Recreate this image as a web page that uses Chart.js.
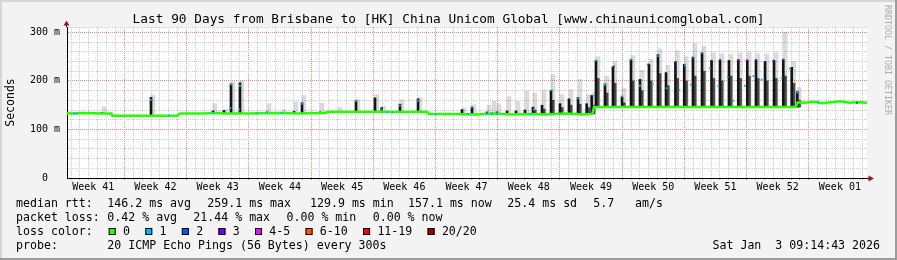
<!DOCTYPE html>
<html>
<head>
<meta charset="utf-8">
<script src="https://cdn.jsdelivr.net/npm/chart.js@4"></script>
<style>
  html, body { margin: 0; padding: 0; background: #f3f3f3; }
  canvas { display: block; }
</style>
</head>
<body>
<canvas id="myChart" width="897" height="260"></canvas>
<script>
// time axis in days since the start of the 90 day window
const totalDays = 90;
const firstWeekStart = 6.45;
const weekLabels = ['Week 41', 'Week 42', 'Week 43', 'Week 44', 'Week 45', 'Week 46', 'Week 47',
    'Week 48', 'Week 49', 'Week 50', 'Week 51', 'Week 52', 'Week 01'];
const yMax = 311;

// median rtt (ms)
const medianDay = [0, 2, 4, 5.0, 5.1, 8, 10, 12.4, 12.7, 15, 17.3, 17.6, 18, 20, 24, 26, 29.1, 29.3, 32, 35,
    38, 40.5, 40.7, 43, 46, 48, 50, 52, 54, 56, 58, 59.1, 59.3, 62, 65, 68, 71, 74, 77, 80,
    82.0, 82.2, 83, 84, 85, 86, 87, 88, 89, 90];
const medianMs = [133, 134, 133, 133, 128, 128, 128, 128, 133, 133, 134, 133, 133, 133, 134, 133, 134, 136.5, 136, 136.5,
    136, 136.5, 132, 132, 131, 133, 131, 132, 131, 133, 131, 132, 146, 146, 146, 146, 146, 146, 146, 146,
    146, 156, 155, 157, 154, 156, 158, 155, 156, 155];

// smoke spikes
const spikeDay = [3.94, 9.45, 16.42, 17.66, 18.45, 19.46, 22.50, 24.19, 25.54, 26.44, 28.46, 30.49, 32.51, 34.65,
    35.40, 37.46, 39.49, 44.44, 45.56, 47.25, 47.81, 48.37, 49.50, 50.51, 51.52, 52.42, 53.44, 54.45,
    55.46, 56.47, 57.49, 58.46, 59.03, 59.51, 60.52, 61.42, 62.44, 63.45, 64.46, 65.47, 66.48, 67.39,
    68.45, 69.44, 70.42, 71.44, 72.51, 73.46, 74.47, 75.52, 76.53, 77.51, 78.53, 79.54, 80.58, 81.53, 82.16];
const spikeBase = [133, 128, 133, 133, 133, 133, 134, 134, 134, 134, 134, 136.5, 136.5, 136.5,
    136.5, 136.5, 136.5, 132, 132, 132, 132, 132, 132, 132, 132, 132, 132, 132,
    132, 132, 132, 132, 132, 146, 146, 146, 146, 146, 146, 146, 146, 146,
    146, 146, 146, 146, 146, 146, 146, 146, 146, 146, 146, 146, 146, 146, 146];
const spikeTop = [135, 166, 138, 139, 194, 196, 136, 135, 137, 155, 136, 137, 159, 165,
    145, 152, 163, 141, 146, 136, 134, 136, 138, 138, 140, 146, 150, 180,
    153, 163, 166, 153, 170, 242, 194, 229, 167, 244, 203, 234, 254, 217,
    239, 234, 249, 258, 242, 242, 242, 243, 243, 243, 240, 242, 244, 228, 178];
const spikeTail = [null, null, null, null, null, null, null, null, null, null, null, null, null, null,
    null, null, null, null, null, null, null, null, null, null, null, 140, 142, 160,
    145, 150, 152, 145, 150, 205, 175, 195, 155, 200, 180, 200, 215, 190,
    205, 200, 210, 220, 205, 200, 210, 205, 210, 205, 200, 205, 210, 195, 160];
const smokeTop = [147, 170, 153, 141, 198, 200, 153, 141, 157, 170, 154, 145, 162, 172,
    148, 161, 166, 143, 151, 150, 158, 153, 168, 158, 179, 175, 180, 213,
    172, 182, 203, 172, 176, 250, 210, 240, 185, 252, 222, 245, 266, 232,
    262, 250, 277, 271, 258, 256, 255, 258, 260, 256, 255, 258, 300, 240, 186];

// points where the median had packet loss (bucket index into lossColors)
const lossDay = [0.79, 1.09, 9.42, 11.47, 16.39, 18.37, 18.45, 19.46, 19.38, 21.34, 22.47, 24.15, 26.47, 32.48,
    35.40, 35.97, 36.6, 37.46, 39.45, 41.48, 45.15, 45.53, 47.22, 47.78, 48.34, 52.09, 52.54,
    54.53, 57.52, 59.21, 59.48, 60.52, 61.54, 62.40, 63.41, 64.46, 65.40, 65.89, 66.45, 67.46,
    68.48, 68.88, 69.52, 70.20, 70.46, 71.47, 72.34, 73.27, 73.46, 74.33, 74.96, 75.52, 76.27,
    76.46, 77.21, 77.51, 78.15, 79.46, 80.40, 80.58, 81.34, 82.16, 84.49, 88.87];
const lossMs = [132, 132, 161, 129, 134, 144, 193, 190, 141, 133, 135, 134, 153, 158,
    141, 135, 135, 149, 159, 132, 132, 146, 132, 132, 132, 131, 141,
    181, 164, 169, 242, 192, 230, 168, 244, 190, 234, 193, 251, 185,
    239, 181, 232, 192, 247, 258, 226, 190, 243, 208, 159, 243, 190,
    243, 210, 243, 203, 242, 206, 244, 225, 176, 157, 155];
const lossBucket = [1, 1, 1, 1, 1, 1, 1, 1, 1, 1, 1, 1, 1, 1,
    1, 1, 1, 1, 1, 1, 1, 1, 1, 1, 1, 1, 1,
    1, 1, 1, 1, 1, 2, 1, 1, 1, 3, 1, 1, 1,
    3, 1, 1, 1, 2, 1, 1, 1, 3, 1, 1, 3, 1,
    4, 1, 3, 1, 2, 1, 2, 1, 1, 1, 2];

const lossLabels = ['0', '1', '2', '3', '4-5', '6-10', '11-19', '20/20'];
const lossColors = ['#26ff00', '#00b8ff', '#0059ff', '#6a00ff', '#ff00ff', '#ff5500', '#ff0000', '#a10000'];

const title = 'Last 90 Days from Brisbane to [HK] China Unicom Global [www.chinaunicomglobal.com]';
const medianStats = ['146.2 ms avg', '259.1 ms max', '129.9 ms min', '157.1 ms now', '25.4 ms sd', '5.7', 'am/s'];
const lossStats = ['0.42 % avg', '21.44 % max', '0.00 % min', '0.00 % now'];
const probeText = '20 ICMP Echo Pings (56 Bytes) every 300s';
const stamp = 'Sat Jan  3 09:14:43 2026';

const MONO = '"DejaVu Sans Mono", monospace';
const RED_GRID = '#ee8888';
const GREY_GRID = '#cdcdcd';

const smokeData = spikeDay.map((d, i) => ({ x: d + 0.22, y: [spikeBase[i], smokeTop[i]] }));
const spikeData = spikeDay.map((d, i) => ({ x: d, y: [spikeBase[i], spikeTop[i]] }));
const tailData = spikeDay.map((d, i) => spikeTail[i] === null ? null : ({ x: d + 0.25, y: [spikeBase[i], spikeTail[i]] }))
    .filter(p => p !== null);
const medianData = medianDay.map((d, i) => ({ x: d, y: medianMs[i] }));
const lossData = lossDay.map((d, i) => ({ x: d, y: lossMs[i] }));

function isWeekLine(v) {
    const k = (v - firstWeekStart) / 7;
    return Math.abs(k - Math.round(k)) < 0.01;
}

const decor = {
    id: 'decor',
    beforeDraw(chart) {
        const { ctx, chartArea: a } = chart;
        ctx.save();
        ctx.fillStyle = '#f3f3f3';
        ctx.fillRect(0, 0, chart.width, chart.height);
        ctx.fillStyle = '#ffffff';
        ctx.fillRect(a.left, a.top, a.right - a.left, a.bottom - a.top);
        ctx.restore();
    },
    afterDraw(chart) {
        const { ctx, chartArea: a } = chart;
        ctx.save();
        // frame
        ctx.fillStyle = '#d6d6d6';
        ctx.fillRect(0, 0, chart.width, 2);
        ctx.fillRect(0, 0, 2, chart.height);
        ctx.fillStyle = '#9c9c9c';
        ctx.fillRect(0, chart.height - 2, chart.width, 2);
        ctx.fillRect(chart.width - 2, 0, 2, chart.height);

        // axis arrows
        ctx.strokeStyle = '#000';
        ctx.lineWidth = 1;
        ctx.beginPath();
        ctx.moveTo(a.left - 0.5, a.top);
        ctx.lineTo(a.left - 0.5, a.top - 3);
        ctx.moveTo(a.right, a.bottom + 0.5);
        ctx.lineTo(a.right + 2, a.bottom + 0.5);
        ctx.stroke();
        ctx.fillStyle = '#9a1b1b';
        ctx.beginPath();
        ctx.moveTo(a.left - 0.5, a.top - 6.5);
        ctx.lineTo(a.left - 3.5, a.top - 1.5);
        ctx.lineTo(a.left + 2.5, a.top - 1.5);
        ctx.closePath();
        ctx.fill();
        ctx.beginPath();
        ctx.moveTo(a.right + 7, a.bottom + 0.5);
        ctx.lineTo(a.right + 1.5, a.bottom - 2.5);
        ctx.lineTo(a.right + 1.5, a.bottom + 3.5);
        ctx.closePath();
        ctx.fill();

        // title
        ctx.fillStyle = '#000';
        ctx.textBaseline = 'middle';
        ctx.textAlign = 'center';
        ctx.font = '12.8px ' + MONO;
        ctx.fillText(title, 448.5, 19.5);

        // watermark
        ctx.save();
        ctx.translate(887.5, 5);
        ctx.rotate(Math.PI / 2);
        ctx.textAlign = 'left';
        ctx.fillStyle = '#ababab';
        ctx.font = '8.3px ' + MONO;
        ctx.fillText('RRDTOOL / TOBI OETIKER', 0, 0);
        ctx.restore();

        // legend block
        ctx.textAlign = 'left';
        ctx.font = '11.6px ' + MONO;
        ctx.fillText('median rtt:', 16, 204);
        [107.3, 207.3, 310, 408, 507.3, 593.3, 635].forEach((x, i) => ctx.fillText(medianStats[i], x, 204));
        ctx.fillText('packet loss:', 16, 218);
        [107.3, 193.3, 286.5, 372.7].forEach((x, i) => ctx.fillText(lossStats[i], x, 218));
        ctx.fillText('loss color:', 16, 232);
        let sx = 108.7;
        lossLabels.forEach((lab, i) => {
            ctx.fillStyle = lossColors[i];
            ctx.fillRect(sx, 228, 7, 7);
            ctx.strokeStyle = '#000';
            ctx.strokeRect(sx + 0.5, 228.5, 6, 6);
            ctx.fillStyle = '#000';
            ctx.fillText(lab, sx + 14.3, 232);
            sx += 14.3 + ctx.measureText(lab).width + 15.3;
        });
        ctx.fillText('probe:', 16, 246);
        ctx.fillText(probeText, 107.3, 246);
        ctx.textAlign = 'right';
        ctx.fillText(stamp, 880, 246);
        ctx.restore();
    }
};

const ctx = document.getElementById('myChart').getContext('2d');
const smokeChart = new Chart(ctx, {
    type: 'line',
    data: {
        datasets: [{
            type: 'bar',
            label: 'smoke',
            data: smokeData,
            backgroundColor: 'rgba(0, 0, 0, 0.14)',
            barThickness: 4,
            grouped: false,
            order: 4
        }, {
            type: 'bar',
            label: 'tail',
            data: tailData,
            backgroundColor: '#4a4a4a',
            barThickness: 2,
            grouped: false,
            order: 3
        }, {
            type: 'bar',
            label: 'spike',
            data: spikeData,
            backgroundColor: '#141414',
            barThickness: 2,
            grouped: false,
            order: 2
        }, {
            label: 'median',
            data: medianData,
            borderColor: '#26ff00',
            borderWidth: 2.5,
            pointRadius: 0,
            tension: 0,
            order: 1
        }, {
            label: 'loss',
            data: lossData,
            showLine: false,
            pointStyle: 'rect',
            pointRadius: 1.3,
            pointBorderWidth: 0,
            pointBackgroundColor: lossBucket.map(b => lossColors[b]),
            order: 0
        }]
    },
    options: {
        responsive: false,
        animation: false,
        devicePixelRatio: 1,
        layout: { padding: { left: 0, right: 30, top: 27, bottom: 64 } },
        plugins: {
            legend: { display: false },
            tooltip: { enabled: false }
        },
        scales: {
            x: {
                type: 'linear',
                position: 'bottom',
                min: 0,
                max: totalDays,
                bounds: 'data',
                offset: false,
                afterBuildTicks: scale => {
                    const ticks = [];
                    for (let d = firstWeekStart % 1; d < totalDays; d += 1) ticks.push({ value: d });
                    scale.ticks = ticks;
                },
                afterFit: scale => { scale.height = 0; },
                ticks: { display: false, autoSkip: false },
                grid: {
                    offset: false,
                    color: c => isWeekLine(c.tick.value) ? RED_GRID : GREY_GRID,
                    tickColor: c => isWeekLine(c.tick.value) ? '#e06060' : '#bbbbbb',
                    tickLength: 2
                },
                border: { color: '#000', dash: [1, 1] }
            },
            xw: {
                type: 'linear',
                position: 'bottom',
                min: 0,
                max: totalDays,
                bounds: 'data',
                afterBuildTicks: scale => {
                    scale.ticks = weekLabels.map((l, i) => ({ value: firstWeekStart - 3.5 + 7 * i }));
                },
                afterFit: scale => { scale.height = 18; },
                ticks: {
                    autoSkip: false,
                    maxRotation: 0,
                    padding: 3,
                    color: '#000',
                    font: { family: MONO, size: 10 },
                    callback: (v, i) => weekLabels[i]
                },
                grid: { display: false, drawTicks: false },
                border: { display: false }
            },
            y: {
                min: 0,
                max: yMax,
                bounds: 'data',
                afterFit: scale => { scale.width = 67; },
                ticks: {
                    stepSize: 20,
                    includeBounds: false,
                    autoSkip: false,
                    padding: 7,
                    color: '#000',
                    font: { family: MONO, size: 10 },
                    callback: v => v % 100 === 0 ? (v === 0 ? '0  ' : v + ' m') : ''
                },
                grid: {
                    drawTicks: false,
                    color: c => c.tick.value % 100 === 0 ? RED_GRID : GREY_GRID
                },
                border: { color: '#000', dash: [1, 1] },
                title: {
                    display: true,
                    text: 'Seconds',
                    color: '#000',
                    font: { family: MONO, size: 11.5 },
                    padding: { top: 4, bottom: 4 }
                }
            }
        }
    },
    plugins: [decor]
});
</script>
</body>
</html>
